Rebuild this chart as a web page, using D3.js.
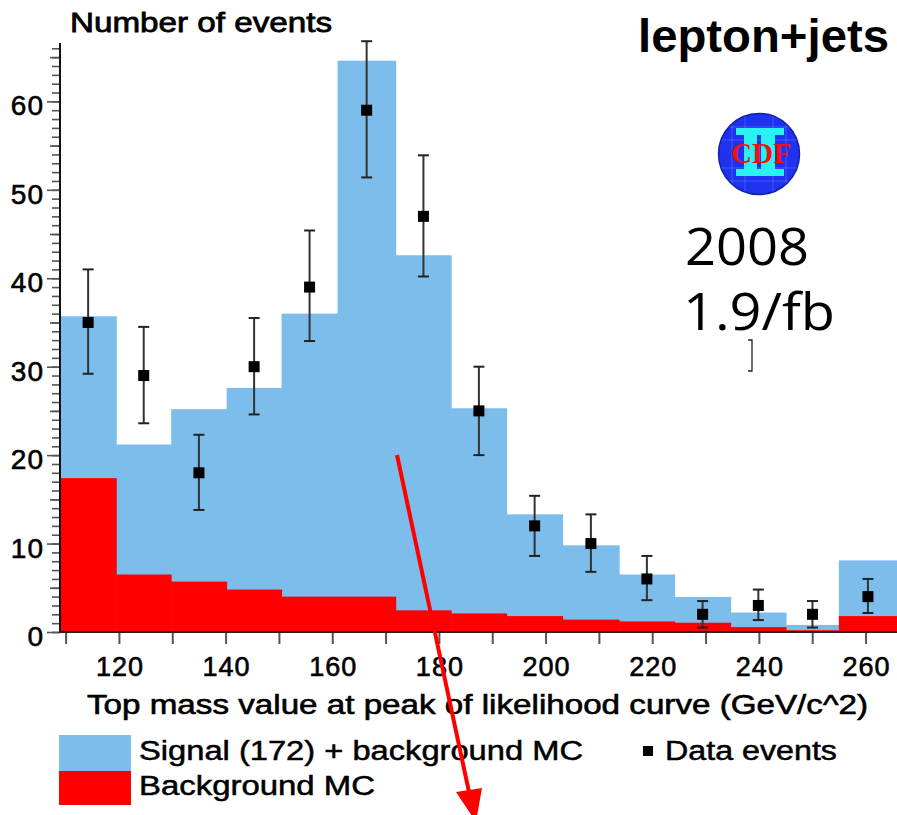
<!DOCTYPE html>
<html>
<head>
<meta charset="utf-8">
<script src="https://cdn.jsdelivr.net/npm/d3@7"></script>
<style>
  body { margin: 0; background: #fff; }
  svg { display: block; font-family: "Liberation Sans", Arial, sans-serif; }
</style>
</head>
<body>
<div id="chart"></div>
<script>
// bin edges along x (GeV/c^2)
var binEdges = [108.95, 119.5, 129.8, 140.2, 150.5, 161.0, 171.9, 182.3, 192.7, 203.2, 213.8, 224.2, 234.7, 245.1, 255.0, 265.9];
// signal + background MC (blue), background MC (red)
var totalMC = [35.7, 21.2, 25.2, 27.6, 36.0, 64.6, 42.6, 25.3, 13.3, 9.8, 6.5, 3.96, 2.2, 0.8, 8.1];
var bkgMC = [17.4, 6.5, 5.7, 4.8, 4.0, 4.0, 2.45, 2.1, 1.8, 1.4, 1.2, 1.05, 0.55, 0.2, 1.8];
// data events with error bar ends
var dataEvents = [35, 29, 18, 30, 39, 59, 47, 25, 12, 10, 6, 2, 3, 2, 4];
var errLow = [29.2, 23.6, 13.8, 24.6, 32.9, 51.4, 40.2, 20.0, 8.6, 6.8, 3.6, 0.5, 1.35, 0.5, 2.15];
var errHigh = [41.0, 34.5, 22.3, 35.5, 45.4, 66.8, 53.9, 30.0, 15.4, 13.3, 8.6, 3.5, 4.8, 3.5, 6.0];
var xTicks = [110, 120, 130, 140, 150, 160, 170, 180, 190, 200, 210, 220, 230, 240, 250, 260];
var xLabels = [120, 140, 160, 180, 200, 220, 240, 260];
var yLabels = [0, 10, 20, 30, 40, 50, 60];

var width = 897, height = 815;
var blue = "#7dbdec", red = "#ff0000";

var svg = d3.select("#chart").append("svg")
    .attr("width", width)
    .attr("height", height);

var x = d3.scaleLinear().domain([108.95, 265.9]).range([60, 897]);
var y = d3.scaleLinear().domain([0, 66.6]).range([632, 43]);

var bins = totalMC.map(function(t, i) {
    return {x0: binEdges[i], x1: binEdges[i + 1], total: t, bkg: bkgMC[i],
            data: dataEvents[i], lo: errLow[i], hi: errHigh[i]};
});

// histograms
var gHist = svg.append("g").attr("class", "hist");
gHist.selectAll(".tot").data(bins).enter().append("rect")
    .attr("class", "tot")
    .attr("x", function(d) { return x(d.x0); })
    .attr("width", function(d) { return x(d.x1) - x(d.x0) + 0.5; })
    .attr("y", function(d) { return y(d.total); })
    .attr("height", function(d) { return y(0) - y(d.total); })
    .attr("fill", blue);
gHist.selectAll(".bkg").data(bins).enter().append("rect")
    .attr("class", "bkg")
    .attr("x", function(d) { return x(d.x0); })
    .attr("width", function(d) { return x(d.x1) - x(d.x0) + 0.5; })
    .attr("y", function(d) { return y(d.bkg); })
    .attr("height", function(d) { return y(0) - y(d.bkg); })
    .attr("fill", red);

// axes
var yMinor = d3.axisLeft(y).tickValues(d3.range(0, 67, 1)).tickSize(8).tickFormat("");
var yMid = d3.axisLeft(y).tickValues([5, 15, 25, 35, 45, 55, 65]).tickSize(10).tickFormat("");
var yMajor = d3.axisLeft(y).tickValues(yLabels).tickSize(13).tickFormat("");
[yMinor, yMid, yMajor].forEach(function(ax) {
    var g = svg.append("g").attr("transform", "translate(60,0)").call(ax);
    g.select(".domain").remove();
    g.selectAll(".tick line").attr("stroke", "#555").attr("stroke-width", 1.6);
});
svg.append("line").attr("x1", 60).attr("x2", 60).attr("y1", y(66.6)).attr("y2", y(0) + 1)
    .attr("stroke", "#111").attr("stroke-width", 2);

var gx = svg.append("g").attr("transform", "translate(0," + y(0) + ")")
    .call(d3.axisBottom(x).tickValues(xTicks).tickSize(12).tickFormat(""));
gx.select(".domain").remove();
gx.selectAll(".tick line").attr("stroke", "#555").attr("stroke-width", 2);
svg.append("line").attr("x1", 59).attr("x2", 897).attr("y1", y(0)).attr("y2", y(0))
    .attr("stroke", "#222").attr("stroke-width", 2);

svg.append("g").selectAll("text").data(yLabels).enter().append("text")
    .attr("x", 44)
    .attr("y", function(d) { return y(d) + 14; })
    .attr("text-anchor", "end")
    .attr("font-size", 28)
    .attr("letter-spacing", 1)
    .attr("stroke", "#000").attr("stroke-width", 0.6)
    .text(function(d) { return d; });

svg.append("g").selectAll("text").data(xLabels).enter().append("text")
    .attr("x", function(d) { return x(d) + 1; })
    .attr("y", 676)
    .attr("text-anchor", "middle")
    .attr("font-size", 27)
    .attr("letter-spacing", 1)
    .attr("stroke", "#000").attr("stroke-width", 0.6)
    .text(function(d) { return d; });

// data points with error bars
var gData = svg.append("g").attr("class", "data");
var cx = function(d) { return x((d.x0 + d.x1) / 2); };
gData.selectAll(".err").data(bins).enter().append("line")
    .attr("x1", cx).attr("x2", cx)
    .attr("y1", function(d) { return y(d.lo); })
    .attr("y2", function(d) { return y(d.hi); })
    .attr("stroke", "#333").attr("stroke-width", 2);
["lo", "hi"].forEach(function(k) {
    gData.selectAll(".cap-" + k).data(bins).enter().append("line")
        .attr("x1", function(d) { return cx(d) - 5.5; })
        .attr("x2", function(d) { return cx(d) + 5.5; })
        .attr("y1", function(d) { return y(d[k]); })
        .attr("y2", function(d) { return y(d[k]); })
        .attr("stroke", "#222").attr("stroke-width", 2);
});
gData.selectAll(".pt").data(bins).enter().append("rect")
    .attr("x", function(d) { return cx(d) - 5.5; })
    .attr("y", function(d) { return y(d.data) - 5.5; })
    .attr("width", 11).attr("height", 11)
    .attr("fill", "#000");

// titles
svg.append("text").attr("x", 70).attr("y", 32)
    .attr("font-size", 28).attr("textLength", 262).attr("lengthAdjust", "spacingAndGlyphs")
    .attr("stroke", "#000").attr("stroke-width", 0.8)
    .text("Number of events");
svg.append("text").attr("x", 87).attr("y", 714)
    .attr("font-size", 27).attr("textLength", 781).attr("lengthAdjust", "spacingAndGlyphs")
    .attr("stroke", "#000").attr("stroke-width", 0.6)
    .text("Top mass value at peak of likelihood curve (GeV/c^2)");
svg.append("text").attr("x", 638).attr("y", 52)
    .attr("font-size", 46).attr("font-weight", "bold")
    .attr("textLength", 251).attr("lengthAdjust", "spacingAndGlyphs")
    .text("lepton+jets");

// CDF logo
var logo = svg.append("g").attr("transform", "translate(759,154)");
logo.append("circle").attr("r", 40.5).attr("fill", "#1e32f0").attr("stroke", "#1020b0").attr("stroke-width", 1.5);
[-27, -14, 14, 27].forEach(function(v) {
    var half = Math.sqrt(40 * 40 - v * v);
    logo.append("line").attr("x1", -half).attr("x2", half).attr("y1", v).attr("y2", v)
        .attr("stroke", "#7088ff").attr("stroke-width", 0.8).attr("opacity", 0.6);
    logo.append("line").attr("y1", -half).attr("y2", half).attr("x1", v).attr("x2", v)
        .attr("stroke", "#7088ff").attr("stroke-width", 0.8).attr("opacity", 0.6);
});
var cyan = "#2af2f2";
logo.append("rect").attr("x", -23).attr("y", -26).attr("width", 48).attr("height", 7).attr("fill", cyan);
logo.append("rect").attr("x", -23).attr("y", 15).attr("width", 48).attr("height", 7).attr("fill", cyan);
logo.append("rect").attr("x", -15).attr("y", -20).attr("width", 13).attr("height", 36).attr("fill", cyan);
logo.append("rect").attr("x", 2).attr("y", -20).attr("width", 14).attr("height", 36).attr("fill", cyan);
logo.append("text").attr("x", 2).attr("y", 9).attr("text-anchor", "middle")
    .style("font-family", "'Liberation Serif', 'DejaVu Serif', serif").attr("font-weight", "bold")
    .attr("font-size", 29).attr("fill", "#f01010")
    .attr("textLength", 60).attr("lengthAdjust", "spacingAndGlyphs")
    .text("CDF");

// year / luminosity
svg.append("text").attr("x", 685).attr("y", 265)
    .style("font-family", "'Open Sans', sans-serif").attr("font-size", 52)
    .attr("textLength", 124).attr("lengthAdjust", "spacingAndGlyphs")
    .text("2008");
svg.append("text").attr("x", 683).attr("y", 330)
    .style("font-family", "'Open Sans', sans-serif").attr("font-size", 52)
    .attr("textLength", 152).attr("lengthAdjust", "spacingAndGlyphs")
    .text("1.9/fb");
svg.append("path").attr("d", "M748,340 H752 V371 H748")
    .attr("fill", "none").attr("stroke", "#222").attr("stroke-width", 1.3);

// legend
svg.append("rect").attr("x", 59).attr("y", 735).attr("width", 72).attr("height", 36).attr("fill", blue);
svg.append("rect").attr("x", 59).attr("y", 771).attr("width", 72).attr("height", 34).attr("fill", red);
svg.append("text").attr("x", 139).attr("y", 760)
    .attr("font-size", 27).attr("textLength", 444).attr("lengthAdjust", "spacingAndGlyphs")
    .attr("stroke", "#000").attr("stroke-width", 0.5)
    .text("Signal (172) + background MC");
svg.append("text").attr("x", 139).attr("y", 795)
    .attr("font-size", 27).attr("textLength", 236).attr("lengthAdjust", "spacingAndGlyphs")
    .attr("stroke", "#000").attr("stroke-width", 0.5)
    .text("Background MC");
svg.append("rect").attr("x", 643).attr("y", 746).attr("width", 10).attr("height", 10).attr("fill", "#000");
svg.append("text").attr("x", 665).attr("y", 760)
    .attr("font-size", 27).attr("textLength", 172).attr("lengthAdjust", "spacingAndGlyphs")
    .attr("stroke", "#000").attr("stroke-width", 0.5)
    .text("Data events");

// red annotation arrow
svg.append("line").attr("x1", 397).attr("y1", 455).attr("x2", 469).attr("y2", 792)
    .attr("stroke", red).attr("stroke-width", 4);
svg.append("path").attr("d", "M456,792 L482,788 L476,822 Z").attr("fill", red);
</script>
</body>
</html>
